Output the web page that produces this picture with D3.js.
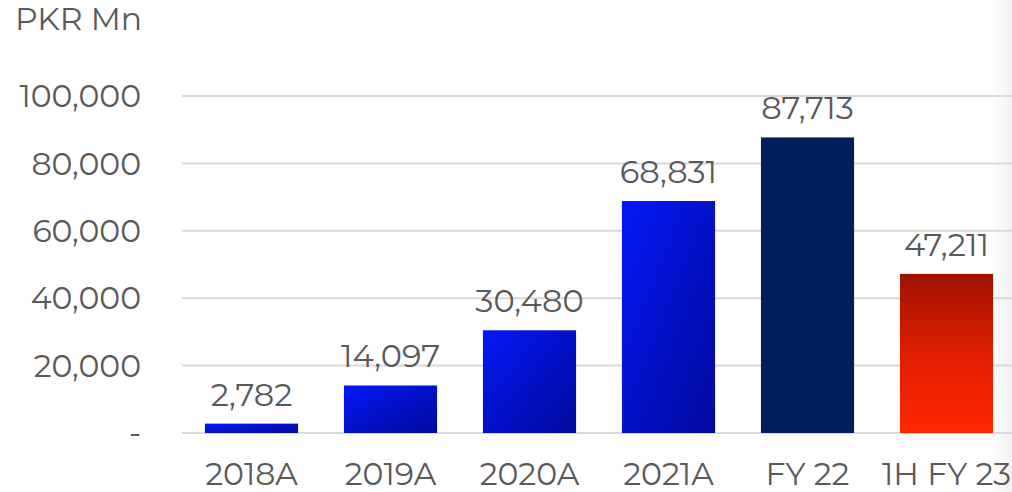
<!DOCTYPE html>
<html>
<head>
<meta charset="utf-8">
<script src="https://cdn.jsdelivr.net/npm/d3@7"></script>
<style>
  html, body { margin: 0; padding: 0; background: #fff; }
  svg { display: block; }
  text { font-family: Montserrat, "DejaVu Sans", sans-serif; fill: #595959; }
</style>
</head>
<body>
<svg id="chart" width="1012" height="492"></svg>
<script>
// Revenue by period, PKR millions
const categories = ["2018A", "2019A", "2020A", "2021A", "FY 22", "1H FY 23"];
const values = [2782, 14097, 30480, 68831, 87713, 47211];
const fills = ["blue", "blue", "blue", "blue", "navy", "red"];
const yTicks = [0, 20000, 40000, 60000, 80000, 100000];
const unitLabel = "PKR Mn";

const W = 1012, H = 492;
const svg = d3.select("#chart");

// subtle grey shading along the right edge
const defs = svg.append("defs");
const edge = defs.append("linearGradient").attr("id", "edge").attr("x1", 0).attr("x2", 1).attr("y1", 0).attr("y2", 0);
edge.append("stop").attr("offset", 0).attr("stop-color", "#ffffff");
edge.append("stop").attr("offset", 1).attr("stop-color", "#f2f2f2");

const blue = defs.append("linearGradient").attr("id", "blue").attr("x1", 0).attr("y1", 0).attr("x2", 1).attr("y2", 1);
blue.append("stop").attr("offset", 0).attr("stop-color", "#0418f5");
blue.append("stop").attr("offset", 1).attr("stop-color", "#020a9c");

const red = defs.append("linearGradient").attr("id", "red").attr("x1", 0).attr("y1", 0).attr("x2", 0).attr("y2", 1);
red.append("stop").attr("offset", 0).attr("stop-color", "#9e1200");
red.append("stop").attr("offset", 0.5).attr("stop-color", "#e01e00");
red.append("stop").attr("offset", 1).attr("stop-color", "#ff2800");

const fillFor = k => k === "blue" ? "url(#blue)" : k === "red" ? "url(#red)" : "#00205b";

svg.append("rect").attr("x", 990).attr("y", 0).attr("width", W - 990).attr("height", H).attr("fill", "url(#edge)");

const x = d3.scaleBand().domain(categories).range([182, 1016]).paddingInner(0.33).paddingOuter(0.165);
const y = d3.scaleLinear().domain([0, 100000]).range([433, 96]);

// gridlines
svg.append("g").selectAll("line").data(yTicks).join("line")
  .attr("x1", 182).attr("x2", W)
  .attr("y1", d => y(d)).attr("y2", d => y(d))
  .attr("stroke", "#d9d9d9").attr("stroke-width", 2);

// y axis labels
const fmt = d3.format(",");
const yAxis = d3.axisLeft(y).tickValues(yTicks).tickSize(0).tickPadding(0)
  .tickFormat(d => d === 0 ? "-" : fmt(d));
const ya = svg.append("g").attr("transform", "translate(141,0)").call(yAxis);
ya.select(".domain").remove();
ya.selectAll("text").attr("font-size", 31.5).attr("font-family", null).attr("fill", "#595959").attr("dy", "0.34em");

// unit label
svg.append("text").attr("x", 15).attr("y", 30).attr("font-size", 31.5).text(unitLabel);

// bars
svg.append("g").selectAll("rect").data(values).join("rect")
  .attr("x", (d, i) => x(categories[i]))
  .attr("width", x.bandwidth())
  .attr("y", d => y(d))
  .attr("height", d => y(0) - y(d))
  .attr("fill", (d, i) => fillFor(fills[i]));

// value labels
svg.append("g").selectAll("text").data(values).join("text")
  .attr("x", (d, i) => x(categories[i]) + x.bandwidth() / 2)
  .attr("y", d => y(d) - 18)
  .attr("text-anchor", "middle")
  .attr("font-size", 32)
  .text(d => fmt(d));

// category axis
const xAxis = d3.axisBottom(x).tickSize(0).tickPadding(0);
const xa = svg.append("g").attr("transform", "translate(0,485)").call(xAxis);
xa.select(".domain").remove();
xa.selectAll("text").attr("font-size", 31.5).attr("font-family", null).attr("fill", "#595959").attr("dy", 0);
</script>
</body>
</html>
